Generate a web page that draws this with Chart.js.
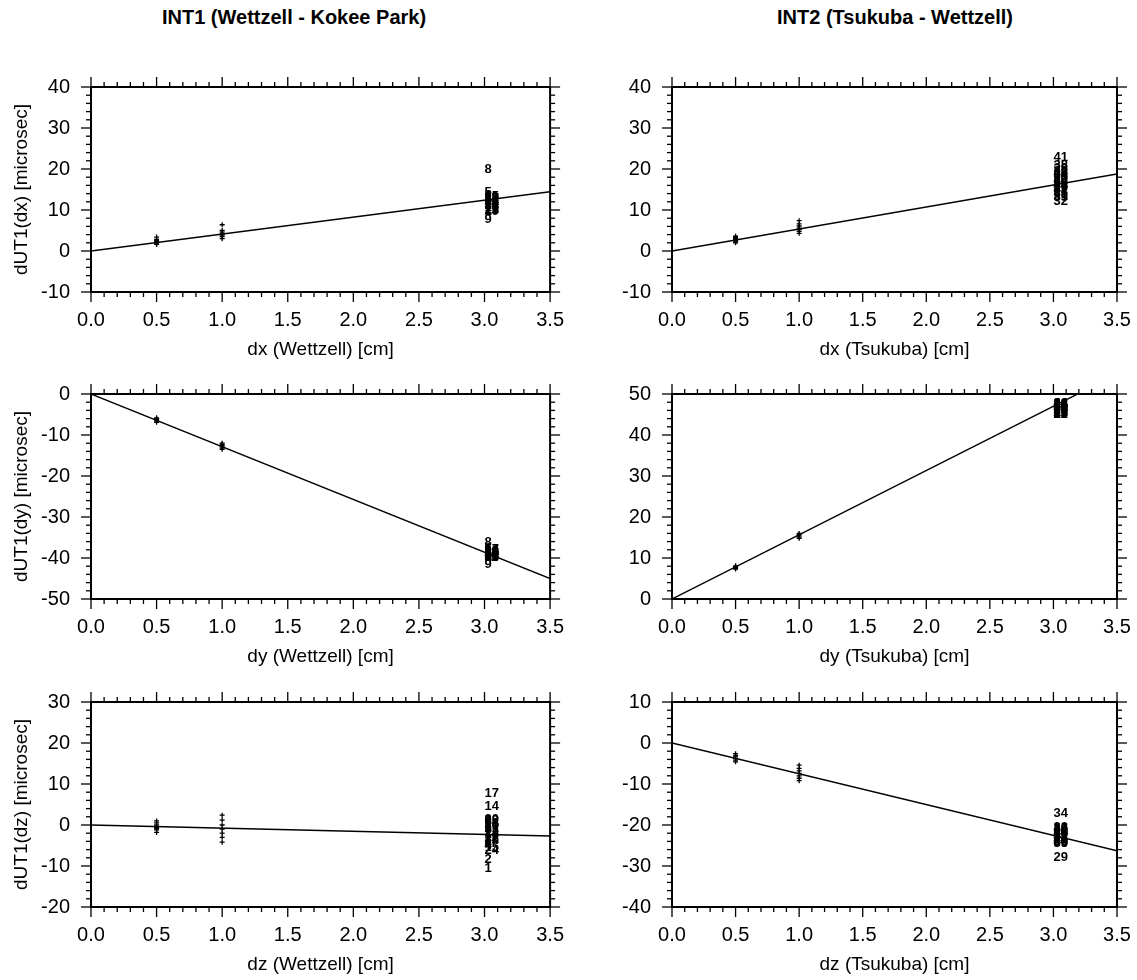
<!DOCTYPE html>
<html>
<head>
<meta charset="utf-8">
<script src="https://cdn.jsdelivr.net/npm/chart.js@4.4.1/dist/chart.umd.min.js"></script>
<style>
  html, body { margin: 0; padding: 0; background: #fff; }
  body { width: 1137px; height: 980px; position: relative; overflow: hidden; font-family: "Liberation Sans", Arial, Helvetica, sans-serif; }
  canvas { position: absolute; }
  .head { position: absolute; top: 6px; font-weight: bold; font-size: 20px; color: #000; transform: translateX(-50%); white-space: nowrap; }
</style>
</head>
<body>
<div class="head" id="h0" style="left:294px"></div>
<div class="head" id="h1" style="left:895px"></div>
<canvas id="c0"></canvas><canvas id="c1"></canvas>
<canvas id="c2"></canvas><canvas id="c3"></canvas>
<canvas id="c4"></canvas><canvas id="c5"></canvas>
<script>
// ---- column headings and axis texts ----
const headings = ['INT1 (Wettzell - Kokee Park)', 'INT2 (Tsukuba - Wettzell)'];
const xTitles = ['dx (Wettzell) [cm]', 'dx (Tsukuba) [cm]',
                 'dy (Wettzell) [cm]', 'dy (Tsukuba) [cm]',
                 'dz (Wettzell) [cm]', 'dz (Tsukuba) [cm]'];
const yTitles = ['dUT1(dx) [microsec]', '', 'dUT1(dy) [microsec]', '', 'dUT1(dz) [microsec]', ''];
const yRanges = [[-10, 40], [-10, 40], [-50, 0], [0, 50], [-20, 30], [-40, 10]];
const xRange = [0, 3.5];

// slope of the fitted line through the origin (microsec per cm)
const fitSlopes = [4.13, 5.37, -12.86, 15.67, -0.77, -7.51];

// session numbers of each baseline, all shifted by 3 cm
const int1Sessions = [1, 2, 3, 4, 5, 6, 7, 8, 9, 10, 11, 12, 13, 14, 15, 16, 17, 18, 19, 20, 21, 22, 23, 24];
const int2Sessions = [25, 26, 27, 28, 29, 30, 31, 32, 33, 34, 35, 36, 37, 38, 39, 40, 41, 42, 43, 44];
const shiftLarge = 3.0;

// dUT1 changes for the 0.5 cm and 1.0 cm displacements
const smallAt05 = [
  [1.6, 1.9, 2.1, 2.3, 2.5, 2.8, 3.4],
  [2.0, 2.2, 2.5, 2.8, 3.0, 3.3, 3.6],
  [-5.8, -6.0, -6.2, -6.4, -6.6, -6.9],
  [7.3, 7.5, 7.7, 7.9, 8.1],
  [-1.8, -1.2, -0.9, -0.6, 0.0, 0.5, 1.0],
  [-4.6, -4.2, -3.8, -3.4, -3.0, -2.6]
];
const smallAt10 = [
  [3.0, 3.5, 3.9, 4.2, 4.6, 5.0, 6.4],
  [4.3, 4.8, 5.2, 5.6, 6.1, 6.6, 7.4],
  [-12.0, -12.3, -12.6, -12.9, -13.2, -13.5],
  [14.8, 15.1, 15.4, 15.7, 16.0],
  [-4.2, -3.0, -2.0, -1.0, 0.0, 1.2, 2.4],
  [-9.2, -8.6, -8.0, -7.4, -6.8, -6.2, -5.4]
];

// dUT1 changes for the 3 cm displacement, one value per session (same order as the session lists)
const largeShift = [
  [12.0, 13.1, 11.2, 12.6, 14.2, 13.6, 10.8, 20.0, 7.8, 13.0, 10.2, 12.4,
   9.8, 11.6, 13.3, 10.6, 12.9, 11.0, 9.6, 12.1, 11.4, 13.0, 10.0, 12.2],
  [16.4, 18.8, 14.6, 20.1, 15.2, 17.6, 13.4, 12.0, 19.4, 16.9,
   14.0, 18.2, 15.7, 20.8, 13.1, 17.2, 22.9, 15.0, 19.0, 16.1],
  [-38.9, -39.5, -38.3, -39.2, -38.0, -37.6, -39.8, -36.1, -41.6, -38.6, -39.9, -38.4,
   -39.6, -38.1, -39.0, -38.8, -37.9, -39.4, -38.5, -39.1, -38.2, -39.7, -38.7, -39.3],
  [46.2, 47.3, 45.1, 47.8, 44.9, 46.8, 47.5, 45.6, 46.5, 47.6,
   45.3, 47.0, 46.0, 47.4, 45.8, 46.9, 47.7, 45.0, 46.6, 47.1],
  [-10.7, -8.3, -3.5, -5.0, -1.0, 0.8, -2.6, -4.4, 1.2, -0.4, -3.0, 1.0,
   -1.8, 4.6, -5.4, 0.2, 7.8, -2.2, -4.0, 1.3, -0.8, -3.6, 0.5, -6.1],
  [-22.1, -20.8, -23.6, -21.5, -27.8, -24.3, -22.7, -20.6, -23.1, -17.1,
   -24.5, -21.9, -22.4, -23.9, -21.2, -24.0, -20.9, -22.9, -23.4, -21.7]
];

const FONT = '"Liberation Sans", Arial, Helvetica, sans-serif';

// boxed frame with major/minor ticks pointing outward on all four sides
const frameTicks = {
  id: 'frameTicks',
  afterDraw(chart) {
    const { ctx, chartArea: a, scales: { x, y } } = chart;
    ctx.save();
    ctx.strokeStyle = '#000';
    ctx.lineWidth = 1.3;
    const seg = (x0, y0, x1, y1) => { ctx.beginPath(); ctx.moveTo(x0, y0); ctx.lineTo(x1, y1); ctx.stroke(); };
    const nx = Math.round((x.max - x.min) / 0.1);
    for (let i = 0; i <= nx; i++) {
      const px = x.getPixelForValue(x.min + i * 0.1);
      const len = i % 5 === 0 ? 10 : 5;
      seg(px, a.bottom, px, a.bottom + len);
      seg(px, a.top, px, a.top - len);
    }
    const ny = Math.round((y.max - y.min) / 2);
    for (let i = 0; i <= ny; i++) {
      const v = y.min + i * 2;
      const py = y.getPixelForValue(v);
      const len = v % 10 === 0 ? 10 : 5;
      seg(a.left, py, a.left - len, py);
      seg(a.right, py, a.right + len, py);
    }
    ctx.lineWidth = 2;
    ctx.strokeRect(a.left, a.top, a.right - a.left, a.bottom - a.top);
    ctx.restore();
  }
};

// session numbers written at each session's point, text starting at the point
const sessionLabels = {
  id: 'sessionLabels',
  afterDatasetsDraw(chart) {
    const { ctx, chartArea: a } = chart;
    ctx.save();
    ctx.beginPath();
    ctx.rect(a.left, a.top, a.right - a.left, a.bottom - a.top);
    ctx.clip();
    ctx.fillStyle = '#000';
    ctx.font = 'bold 13px ' + FONT;
    ctx.textAlign = 'left';
    ctx.textBaseline = 'middle';
    chart.data.datasets.forEach((ds, di) => {
      if (!ds.sessions) return;
      const meta = chart.getDatasetMeta(di);
      meta.data.forEach((pt, i) => ctx.fillText(String(ds.sessions[i]), pt.x, pt.y));
    });
    ctx.restore();
  }
};

function makePanel(idx) {
  const col = idx % 2, row = Math.floor(idx / 2);
  const cv = document.getElementById('c' + idx);
  const left = col === 0 ? 0 : 600;
  const width = col === 0 ? 570 : 537;
  const axisW = col === 0 ? 91 : 72;
  const padR = col === 0 ? 18 : 20;
  const top = [60, 367, 675][row];
  const height = 320;
  cv.width = width; cv.height = height;
  cv.style.left = left + 'px'; cv.style.top = top + 'px';

  const sessions = col === 0 ? int1Sessions : int2Sessions;
  const small = smallAt05[idx].map(v => ({ x: 0.5, y: v }))
    .concat(smallAt10[idx].map(v => ({ x: 1.0, y: v })));

  new Chart(cv, {
    type: 'scatter',
    data: {
      datasets: [
        { type: 'line', data: [{ x: xRange[0], y: 0 }, { x: xRange[1], y: fitSlopes[idx] * xRange[1] }],
          borderColor: '#000', borderWidth: 1.4, pointRadius: 0, fill: false, tension: 0 },
        { data: small, pointStyle: 'cross', pointRadius: 2.5, borderColor: '#000', borderWidth: 1.3, backgroundColor: '#000' },
        { data: largeShift[idx].map(v => ({ x: shiftLarge, y: v })), sessions: sessions, pointRadius: 0 }
      ]
    },
    options: {
      responsive: false,
      animation: false,
      events: [],
      layout: { padding: { top: 27, right: padR, left: 0, bottom: 0 } },
      plugins: { legend: { display: false }, tooltip: { enabled: false }, title: { display: false } },
      scales: {
        x: {
          type: 'linear', position: 'bottom', min: xRange[0], max: xRange[1],
          ticks: { stepSize: 0.5, autoSkip: false, maxRotation: 0, color: '#000', padding: 6,
                   font: { family: FONT, size: 20 }, callback: v => Number(v).toFixed(1) },
          grid: { display: false, drawTicks: true, tickLength: 10 },
          border: { display: false },
          title: { display: true, text: xTitles[idx], color: '#000', font: { family: FONT, size: 19 },
                   padding: { top: 0, bottom: 19 } },
          afterFit: s => { s.height = height - 27 - 205; }
        },
        y: {
          type: 'linear', min: yRanges[idx][0], max: yRanges[idx][1],
          ticks: { stepSize: 10, autoSkip: false, color: '#000', padding: 11,
                   font: { family: FONT, size: 20 }, callback: v => String(v) },
          grid: { display: false, drawTicks: true, tickLength: 10 },
          border: { display: false },
          title: { display: yTitles[idx] !== '', text: yTitles[idx], color: '#000',
                   font: { family: FONT, size: 19 }, padding: { top: 10, bottom: 0 } },
          afterFit: s => { s.width = axisW; }
        }
      }
    },
    plugins: [frameTicks, sessionLabels]
  });
}

document.getElementById('h0').textContent = headings[0];
document.getElementById('h1').textContent = headings[1];
for (let i = 0; i < 6; i++) makePanel(i);
</script>
</body>
</html>
